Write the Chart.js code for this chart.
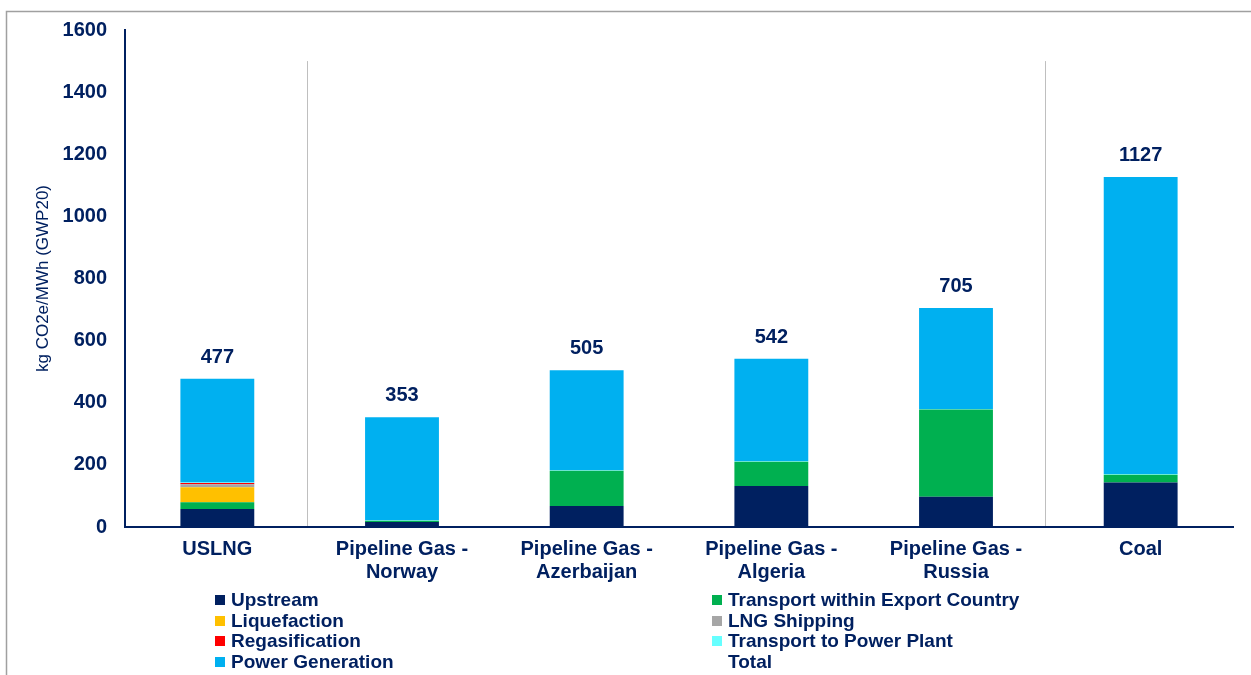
<!DOCTYPE html>
<html>
<head>
<meta charset="utf-8">
<script src="https://cdn.jsdelivr.net/npm/chart.js@4.4.1/dist/chart.umd.min.js"></script>
<style>
  html, body { margin: 0; padding: 0; background: #ffffff; }
  #wrap { width: 1251px; height: 675px; position: relative; }
</style>
</head>
<body>
<div id="wrap"><canvas id="c" width="1251" height="675"></canvas></div>
<script>
const categories = [
  "USLNG",
  ["Pipeline Gas -", "Norway"],
  ["Pipeline Gas -", "Azerbaijan"],
  ["Pipeline Gas -", "Algeria"],
  ["Pipeline Gas -", "Russia"],
  "Coal"
];
const upstream          = [58, 16, 68, 132, 97, 143];
const transportExport   = [22, 4, 113, 78, 281, 25];
const liquefaction      = [48, 0, 0, 0, 0, 0];
const lngShipping       = [10, 0, 0, 0, 0, 0];
const regasification    = [4, 0, 0, 0, 0, 0];
const transportPower    = [1, 2, 2, 2, 2, 3];
const powerGeneration   = [334, 331, 322, 330, 325, 956];
const totals            = [477, 353, 505, 542, 705, 1127];
const yTicks            = [0, 200, 400, 600, 800, 1000, 1200, 1400, 1600];
const yTitle            = "kg CO2e/MWh (GWP20)";

const NAVY = "#002060";
const FONT = "'Liberation Sans', Arial, sans-serif";

const series = [
  { label: "Upstream", data: upstream, color: "#002060" },
  { label: "Transport within Export Country", data: transportExport, color: "#00B050" },
  { label: "Liquefaction", data: liquefaction, color: "#FFC000" },
  { label: "LNG Shipping", data: lngShipping, color: "#A6A6A6" },
  { label: "Regasification", data: regasification, color: "#FF0000" },
  { label: "Transport to Power Plant", data: transportPower, color: "#66FFFF" },
  { label: "Power Generation", data: powerGeneration, color: "#00B0F0" }
];

const datasets = series.map(s => ({
  type: "bar",
  label: s.label,
  data: s.data,
  backgroundColor: s.color,
  borderWidth: 0,
  stack: "s",
  categoryPercentage: 1.0,
  barPercentage: 0.4
}));
datasets.push({
  type: "line",
  label: "Total",
  data: totals,
  showLine: false,
  pointRadius: 0,
  pointHoverRadius: 0,
  stack: "total",
  borderColor: "rgba(0,0,0,0)",
  backgroundColor: "rgba(0,0,0,0)"
});

const decor = {
  id: "decor",
  beforeDraw(chart) {
    const ctx = chart.ctx;
    ctx.save();
    ctx.strokeStyle = "#A0A0A0";
    ctx.lineWidth = 1.5;
    ctx.beginPath();
    ctx.moveTo(6.5, 675);
    ctx.lineTo(6.5, 11.5);
    ctx.lineTo(1251, 11.5);
    ctx.stroke();
    // separators
    const x = chart.scales.x, y = chart.scales.y;
    ctx.strokeStyle = "#BFBFBF";
    ctx.lineWidth = 1;
    const topY = y.getPixelForValue(1500);
    const botY = y.getPixelForValue(0);
    [0, 4].forEach(i => {
      const px = Math.round((x.getPixelForValue(i) + x.getPixelForValue(i + 1)) / 2 - 3) + 0.5;
      ctx.beginPath();
      ctx.moveTo(px, topY);
      ctx.lineTo(px, botY);
      ctx.stroke();
    });
    // y-axis title
    ctx.save();
    ctx.translate(43, (chart.chartArea.top + chart.chartArea.bottom) / 2);
    ctx.rotate(-Math.PI / 2);
    ctx.fillStyle = NAVY;
    ctx.font = "17px " + FONT;
    ctx.textAlign = "center";
    ctx.textBaseline = "middle";
    ctx.fillText(yTitle, 0, 0);
    ctx.restore();
    ctx.restore();
  },
  afterDatasetsDraw(chart) {
    const ctx = chart.ctx;
    const idx = chart.data.datasets.length - 1;
    const meta = chart.getDatasetMeta(idx);
    ctx.save();
    ctx.fillStyle = NAVY;
    ctx.font = "bold 20px " + FONT;
    ctx.textAlign = "center";
    ctx.textBaseline = "alphabetic";
    meta.data.forEach((pt, i) => {
      ctx.fillText(String(totals[i]), pt.x, pt.y - 16);
    });
    ctx.restore();
  },
  afterDraw(chart) {
    const ctx = chart.ctx;
    ctx.save();
    ctx.font = "bold 19px " + FONT;
    ctx.textBaseline = "middle";
    ctx.textAlign = "left";
    const colX = [215, 712];
    const rowY = [600, 621, 641, 662];
    chart.data.datasets.forEach((ds, i) => {
      const cx = colX[i % 2];
      const cy = rowY[Math.floor(i / 2)];
      if (ds.type === "bar") {
        ctx.fillStyle = ds.backgroundColor;
        ctx.fillRect(cx, cy - 5, 10, 10);
      }
      ctx.fillStyle = NAVY;
      ctx.fillText(ds.label, cx + 16, cy + 1);
    });
    ctx.restore();
  }
};

new Chart(document.getElementById("c"), {
  data: { labels: categories, datasets },
  options: {
    responsive: false,
    animation: false,
    events: [],
    layout: { padding: { top: 30, right: 18, bottom: 0, left: 0 } },
    plugins: { legend: { display: false }, tooltip: { enabled: false } },
    scales: {
      x: {
        stacked: true,
        grid: { display: false, drawTicks: false },
        border: { display: true, color: NAVY, width: 2 },
        ticks: {
          color: NAVY,
          font: { family: FONT, size: 20, weight: "bold", lineHeight: 1.15 },
          padding: 11,
          maxRotation: 0,
          autoSkip: false
        },
        afterFit(scale) { scale.height = 148; }
      },
      y: {
        stacked: true,
        min: 0,
        max: 1600,
        afterBuildTicks(scale) { scale.ticks = yTicks.map(v => ({ value: v })); },
        grid: { display: false, drawTicks: false },
        border: { display: true, color: NAVY, width: 2 },
        ticks: {
          color: NAVY,
          font: { family: FONT, size: 20, weight: "bold" },
          padding: 18,
          callback: (v) => String(v)
        },
        title: { display: false },
        afterFit(scale) { scale.width = 125; }
      }
    }
  },
  plugins: [decor]
});
</script>
</body>
</html>
